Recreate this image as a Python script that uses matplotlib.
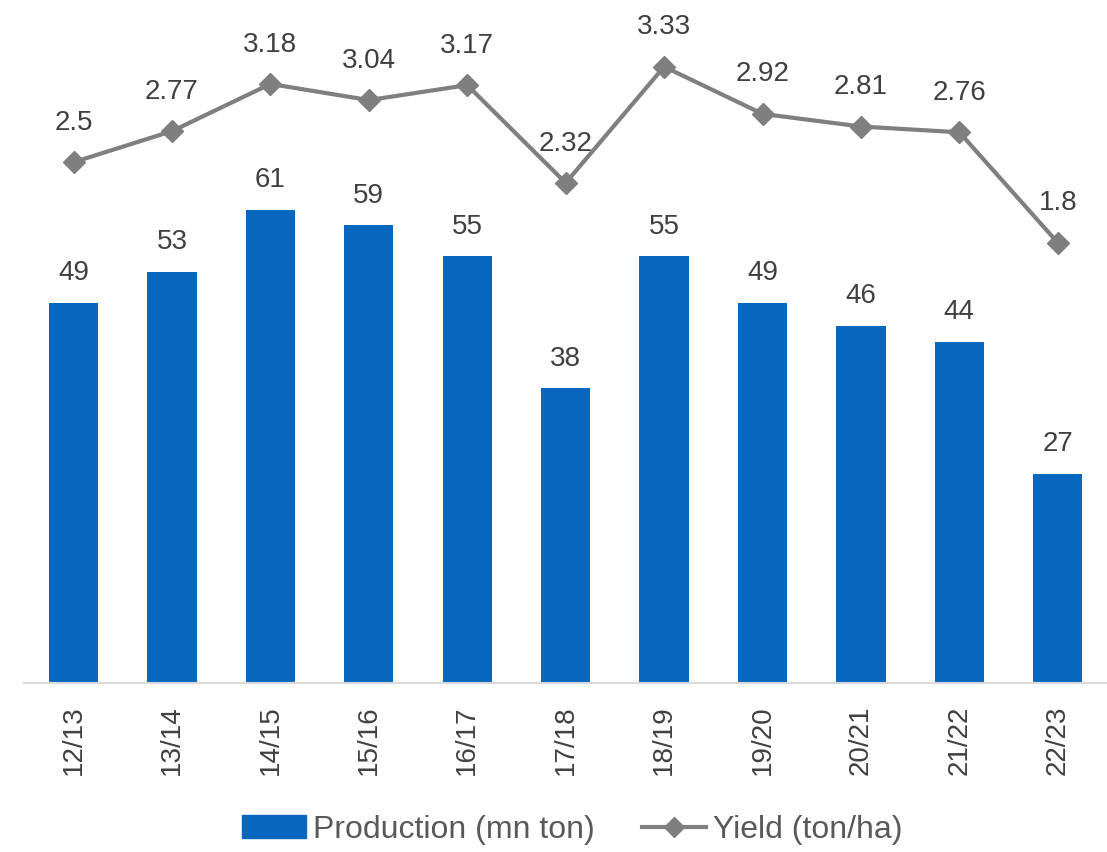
import matplotlib
matplotlib.use("Agg")
import matplotlib.pyplot as plt
from matplotlib.lines import Line2D
from matplotlib.patches import Patch

plt.rcParams['font.family'] = ['Liberation Sans', 'DejaVu Sans']

# data
seasons = ["12/13", "13/14", "14/15", "15/16", "16/17", "17/18",
           "18/19", "19/20", "20/21", "21/22", "22/23"]
production = [49, 53, 61, 59, 55, 38, 55, 49, 46, 44, 27]
yield_t = [2.5, 2.77, 3.18, 3.04, 3.17, 2.32, 3.33, 2.92, 2.81, 2.76, 1.8]

bar_col = "#0868c0"
line_col = "#7f7f7f"
txt_col = "#404040"

fig = plt.figure(figsize=(11.07, 8.52), dpi=100)
ax = fig.add_axes([0.022, 0.198, 0.978, 0.802])
x = list(range(len(seasons)))

ax.bar(x, production, width=0.5, color=bar_col, zorder=2)
for xi, v in zip(x, production):
    ax.annotate(str(v), (xi, v), xytext=(0, 12), textcoords="offset points",
                ha="center", va="bottom", fontsize=20, color=txt_col)

ax.set_xlim(-0.5, len(seasons) - 0.5)
ax.set_ylim(0, 88)
ax.set_xticks(x)
ax.set_xticklabels(seasons, rotation=90, fontsize=20, color=txt_col)
ax.tick_params(axis="x", length=0, pad=16)
ax.set_yticks([])
for s in ["top", "right", "left"]:
    ax.spines[s].set_visible(False)
ax.spines["bottom"].set_color("#d9d9d9")
ax.spines["bottom"].set_linewidth(1.5)

ax2 = ax.twinx()
ax2.plot(x, yield_t, color=line_col, lw=3, marker="D", markersize=11, zorder=3)
for xi, v in zip(x, yield_t):
    ax2.annotate(f"{v:g}", (xi, v), xytext=(0, 19), textcoords="offset points",
                 ha="center", va="bottom", fontsize=20, color=txt_col)
ax2.set_ylim(-2.03, 3.91)
ax2.set_yticks([])
for s in ["top", "right", "left", "bottom"]:
    ax2.spines[s].set_visible(False)

handles = [Patch(color=bar_col),
           Line2D([0], [0], color=line_col, lw=3, marker="D", markersize=10)]
fig.legend(handles, ["Production (mn ton)", "Yield (ton/ha)"],
           loc="center", bbox_to_anchor=(0.517, 0.026), ncol=2, frameon=False,
           fontsize=23, labelcolor="#595959", handlelength=2.0, handletextpad=0.2,
           columnspacing=1.5)

fig.savefig("out.png", dpi=100)
